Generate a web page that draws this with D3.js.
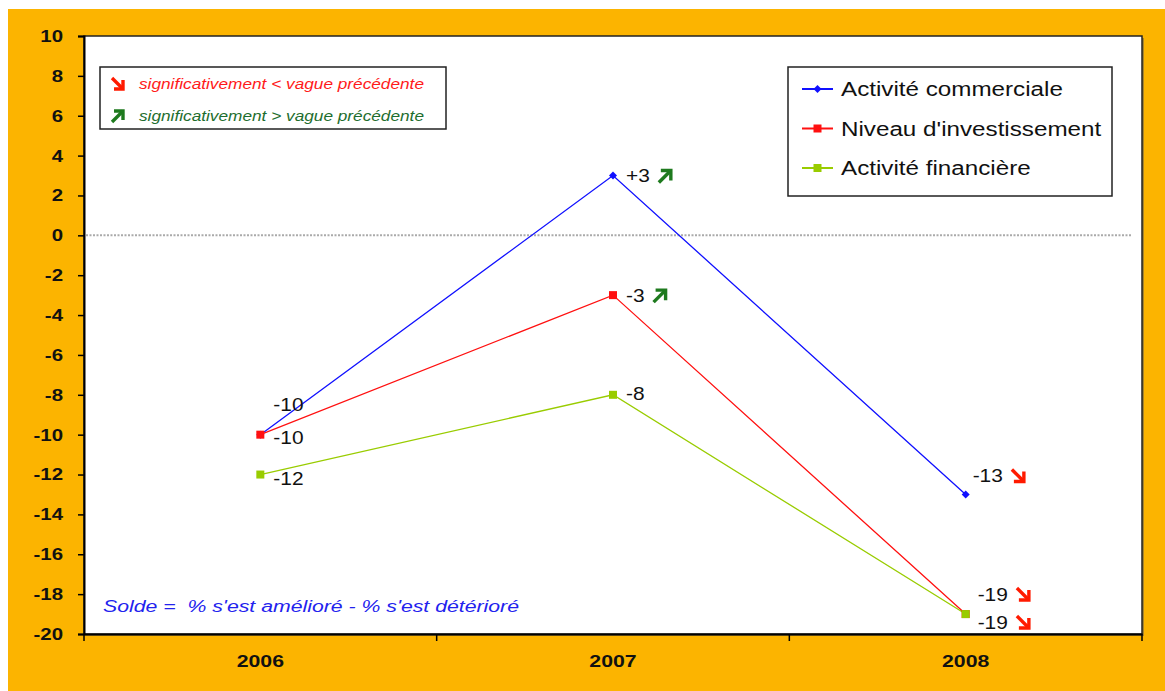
<!DOCTYPE html>
<html>
<head>
<meta charset="utf-8">
<script src="https://cdnjs.cloudflare.com/ajax/libs/d3/7.8.5/d3.min.js"></script>
<style>
  body { margin: 0; background: #fff; }
  text { font-family: Arial, "Liberation Sans", sans-serif; white-space: pre; }
</style>
</head>
<body>
<div class="chart"></div>
<script>
var years = ["2006", "2007", "2008"];
var yTicks = [10, 8, 6, 4, 2, 0, -2, -4, -6, -8, -10, -12, -14, -16, -18, -20];

var seriesNames = ["Activité commerciale", "Niveau d'investissement", "Activité financière"];
var commerciale = [-10, 3, -13];
var investissement = [-10, -3, -19];
var financiere = [-12, -8, -19];
// 1 = significantly above previous wave, -1 = below, 0 = not significant
var commercialeSig = [0, 1, -1];
var investissementSig = [0, 1, -1];
var financiereSig = [0, 0, -1];

var legendNotes = ["significativement < vague précédente", "significativement > vague précédente"];
var noteText = "Solde =  % s'est amélioré - % s'est détérioré";

var W = 1165, H = 691;
var pL = 84, pR = 1142, pT = 36, pB = 634;

var svg = d3.select(".chart").append("svg")
    .attr("width", W)
    .attr("height", H);

// the source font is wider than Arial, stretch texts a bit
function stretch(sel, f){
    sel.each(function(){
        var len = this.getComputedTextLength();
        d3.select(this).attr("textLength", len * f).attr("lengthAdjust", "spacingAndGlyphs");
    });
}

svg.append("rect")
    .attr("x", 8).attr("y", 9)
    .attr("width", W - 8).attr("height", H - 9)
    .style("fill", "#FCB400");

var x = d3.scaleBand().domain(years).range([pL, pR]);
var y = d3.scaleLinear().domain([-20, 10]).range([pB, pT]);

// plot area
svg.append("rect")
    .attr("x", pL + 2).attr("y", pT + 2)
    .attr("width", pR - pL).attr("height", pB - pT)
    .style("fill", "#555").style("opacity", 0.5);
svg.append("rect")
    .attr("x", pL).attr("y", pT)
    .attr("width", pR - pL).attr("height", pB - pT)
    .style("fill", "#fff").style("stroke", "#222").style("stroke-width", 1.5);

// y axis
var yAxis = svg.append("g")
    .attr("transform", "translate(" + pL + ",0)")
    .call(d3.axisLeft(y).tickValues(yTicks).tickSize(6).tickPadding(15).tickFormat(d3.format("d")));
yAxis.select(".domain").style("stroke", "#000").style("stroke-width", 2);
yAxis.selectAll(".tick line").style("stroke", "#000").style("stroke-width", 1.5);
yAxis.selectAll(".tick text")
    .style("font-size", "17px").style("font-weight", "bold").style("fill", "#111")
    .text(function(d){ return d < 0 ? "-" + Math.abs(d) : d; })
    .call(stretch, 1.2);

// x axis
var xAxis = svg.append("g")
    .attr("transform", "translate(0," + pB + ")")
    .call(d3.axisBottom(x).tickSize(0).tickPadding(21));
xAxis.select(".domain").style("stroke", "#000").style("stroke-width", 2);
xAxis.selectAll(".tick text")
    .style("font-size", "17px").style("font-weight", "bold").style("fill", "#111")
    .call(stretch, 1.25);
var bounds = years.map(function(d){ return x(d); }).concat([pR]);
svg.selectAll(".xsep").data(bounds).enter().append("line")
    .attr("class", "xsep")
    .attr("x1", function(d){ return d; }).attr("x2", function(d){ return d; })
    .attr("y1", pB).attr("y2", pB + 7)
    .style("stroke", "#000").style("stroke-width", 1.5);

// zero line
svg.append("line")
    .attr("x1", pL + 2).attr("x2", pR - 10)
    .attr("y1", y(0)).attr("y2", y(0))
    .style("stroke", "#aaa").style("stroke-width", 2).style("stroke-dasharray", "2,1.5");

function xValue(i){ return x(years[i]) + x.bandwidth() / 2; }

function arrow(g, ax, ay, dir, s){
    // dir 1 = up-right green, -1 = down-right red
    var col = dir > 0 ? "#1E7A1E" : "#FF1A00";
    var p = dir > 0
        ? "M" + ax + "," + (ay + s + 1) + " L" + (ax + s) + "," + (ay + 1)
        : "M" + ax + "," + ay + " L" + (ax + s) + "," + (ay + s);
    var h = dir > 0
        ? "M" + (ax + 2) + "," + (ay + 1) + " L" + (ax + s) + "," + (ay + 1) + " L" + (ax + s) + "," + (ay + s - 1)
        : "M" + (ax + s) + "," + (ay + 2) + " L" + (ax + s) + "," + (ay + s) + " L" + (ax + 2) + "," + (ay + s);
    g.append("path").attr("d", p).style("stroke", col).style("stroke-width", 3.4).style("fill", "none");
    g.append("path").attr("d", h).style("stroke", col).style("stroke-width", 3.4).style("fill", "none")
        .style("stroke-linejoin", "miter");
}

var series = [
    { name: seriesNames[0], values: commerciale, sig: commercialeSig, color: "#1010FF", marker: "diamond",
      offs: [[13, -30], [13, 0], [7, -19]] },
    { name: seriesNames[1], values: investissement, sig: investissementSig, color: "#FF1010", marker: "square",
      offs: [[13, 3], [13, 0], [12, 8]] },
    { name: seriesNames[2], values: financiere, sig: financiereSig, color: "#99CC00", marker: "square",
      offs: [[13, 4], [13, -1], [12, -20]] }
];

var line = d3.line()
    .x(function(d, i){ return xValue(i); })
    .y(function(d){ return y(d); });

function drawMarker(g, cx, cy, s){
    if(s.marker === "diamond"){
        g.append("path")
            .attr("d", "M" + cx + "," + (cy - 4) + " L" + (cx + 4) + "," + cy + " L" + cx + "," + (cy + 4) + " L" + (cx - 4) + "," + cy + "Z")
            .style("fill", s.color);
    }else{
        g.append("rect").attr("x", cx - 4).attr("y", cy - 4).attr("width", 8).attr("height", 8)
            .style("fill", s.color);
    }
}

series.forEach(function(s){
    svg.append("path").datum(s.values)
        .attr("d", line)
        .style("fill", "none").style("stroke", s.color).style("stroke-width", 1.3);
});

var labels = svg.append("g");
series.forEach(function(s){
    s.values.forEach(function(v, i){
        drawMarker(svg, xValue(i), y(v), s);
        var t = labels.append("text")
            .attr("x", xValue(i) + s.offs[i][0])
            .attr("y", y(v) + s.offs[i][1])
            .attr("dy", "0.35em")
            .style("font-size", "19px").style("fill", "#111")
            .text(v > 0 ? "+" + v : (v < 0 ? "-" + Math.abs(v) : v))
            .call(stretch, 1.1);
        if(s.sig[i] !== 0){
            var bb = t.node().getBBox();
            arrow(labels, bb.x + bb.width + 9, y(v) + s.offs[i][1] - 6, s.sig[i], 12);
        }
    });
});

// significance legend
var sl = svg.append("g");
sl.append("rect").attr("x", 100).attr("y", 67).attr("width", 346).attr("height", 62)
    .style("fill", "#fff").style("stroke", "#222").style("stroke-width", 1.5);
legendNotes.forEach(function(n, i){
    var yy = 84 + i * 32;
    arrow(sl, 112, yy - 6, i === 0 ? -1 : 1, 11);
    sl.append("text").attr("x", 139).attr("y", yy).attr("dy", "0.35em")
        .style("font-size", "14px").style("font-style", "italic")
        .style("fill", i === 0 ? "#FF1A1A" : "#1E6E2E")
        .attr("textLength", 285).attr("lengthAdjust", "spacingAndGlyphs")
        .text(n);
});

// series legend
var lg = svg.append("g");
lg.append("rect").attr("x", 788).attr("y", 67).attr("width", 324).attr("height", 129)
    .style("fill", "#fff").style("stroke", "#222").style("stroke-width", 1.5);
series.forEach(function(s, i){
    var yy = 89 + i * 39.5;
    lg.append("line").attr("x1", 802).attr("x2", 833).attr("y1", yy).attr("y2", yy)
        .style("stroke", s.color).style("stroke-width", 2);
    drawMarker(lg, 817.5, yy, s);
    lg.append("text").attr("x", 841).attr("y", yy).attr("dy", "0.35em")
        .style("font-size", "20px").style("fill", "#111")
        .text(s.name)
        .call(stretch, 1.21);
});

// note
svg.append("text").attr("x", 103).attr("y", 606).attr("dy", "0.35em")
    .style("font-size", "16px").style("font-style", "italic").style("fill", "#2222EE")
    .attr("textLength", 416).attr("lengthAdjust", "spacingAndGlyphs")
    .text(noteText);
</script>
</body>
</html>
